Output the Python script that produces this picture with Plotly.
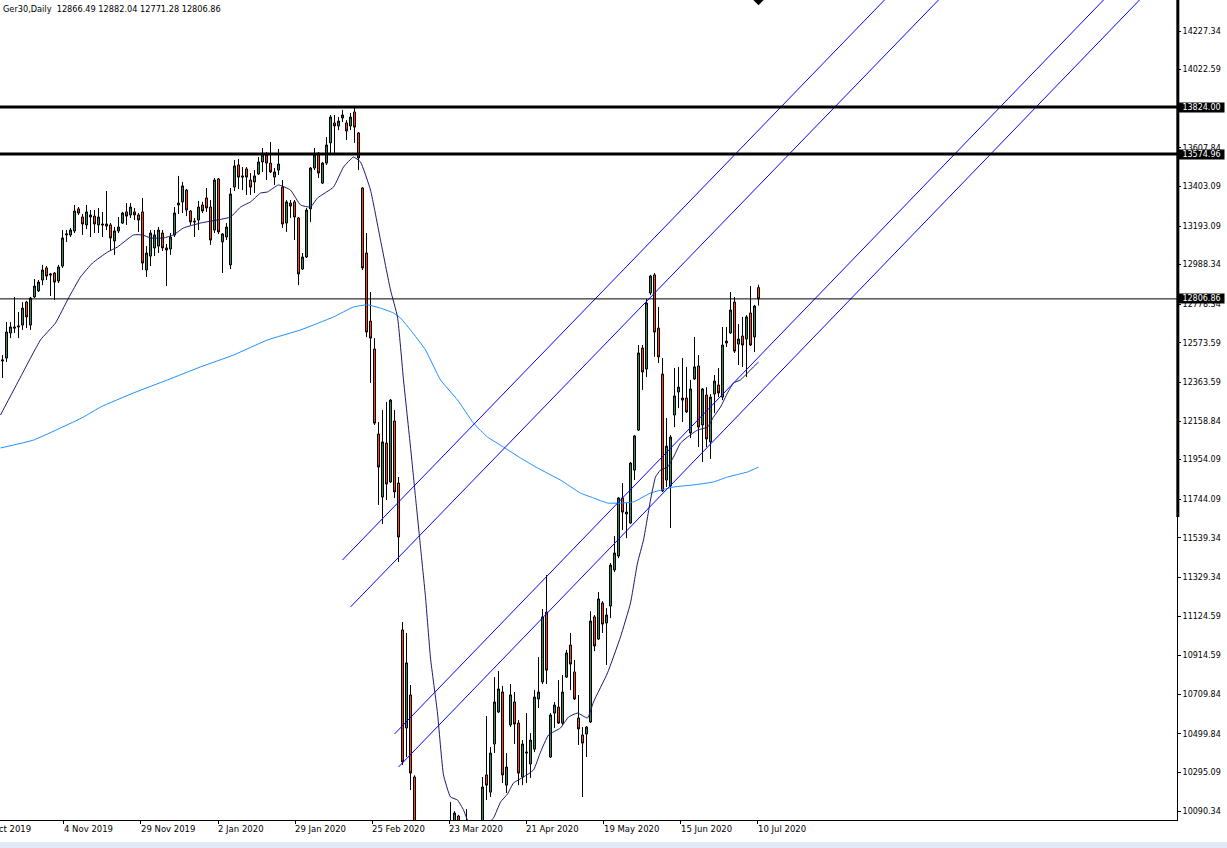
import plotly.graph_objects as go

# ---------------- data ----------------
symbol = "Ger30,Daily"
bar_idx = list(range(190))

opens = [12477, 12493, 12626, 12658, 12658, 12668, 12790, 12668, 12817, 12849,
         12907, 12971, 12939, 12944, 12902, 12981, 13146, 13146, 13167, 13284,
         13241, 13199, 13252, 13246, 13199, 13204, 13204, 13199, 13114, 13167,
         13209, 13268, 13252, 13268, 13252, 13268, 12960, 13034, 13077, 13087,
         13156, 13077, 13071, 13146, 13315, 13321, 13384, 13273, 13220, 13225,
         13305, 13342, 13294, 13172, 13443, 13109, 13135, 12987, 13400, 13517,
         13459, 13496, 13437, 13427, 13469, 13533, 13570, 13527, 13453, 13490,
         13400, 13209, 13315, 13321, 13236, 12965, 13029, 13284, 13501, 13580,
         13421, 13527, 13634, 13740, 13724, 13766, 13740, 13724, 13798, 13687,
         13395, 13050, 12689, 12541, 12090, 11756, 12042, 11836, 12159, 11830,
         11051, 10531, 10706, 10271, 9200, 9000, 8700, 8950, 8450, 8650,
         8900, 8800, 9700, 9850, 10064, 9650, 9850, 9950, 9550, 9600,
         9800, 10282, 10191, 10446, 10616, 10722, 10228, 10547, 10669, 10557,
         10271, 10398, 10340, 10419, 10685, 10775, 11146, 10377, 10610, 10642,
         10557, 10801, 10971, 10828, 10584, 10494, 10499, 10563, 11120, 11003,
         11194, 11088, 11178, 11369, 11443, 11751, 11666, 11618, 11899, 12111,
         12546, 12435, 12838, 12934, 12652, 12408, 11846, 11815, 12191, 12313,
         12281, 12281, 12096, 12382, 12451, 12138, 12297, 12048, 12302, 12350,
         12286, 12573, 12626, 12790, 12567, 12610, 12594, 12732, 12605, 12866.49]

highs = [12509, 12684, 12684, 12817, 12737, 12790, 12796, 12817, 12912, 12907,
         12987, 12981, 12944, 12949, 12987, 13172, 13172, 13183, 13305, 13294,
         13257, 13305, 13278, 13278, 13289, 13268, 13379, 13209, 13188, 13241,
         13268, 13315, 13315, 13289, 13262, 13342, 13087, 13172, 13172, 13188,
         13172, 13098, 13156, 13294, 13459, 13427, 13390, 13278, 13236, 13326,
         13321, 13395, 13331, 13448, 13448, 13156, 13209, 13395, 13543, 13549,
         13506, 13506, 13474, 13490, 13559, 13607, 13586, 13639, 13501, 13602,
         13437, 13331, 13331, 13331, 13241, 13050, 13289, 13506, 13607, 13586,
         13533, 13665, 13782, 13782, 13771, 13809, 13755, 13793, 13819, 13692,
         13400, 13156, 12843, 12599, 12154, 12217, 12260, 12276, 12217, 11862,
         11093, 11035, 10759, 10280, 9950, 9150, 9100, 9000, 8750, 9300,
         8950, 9750, 10138, 10090, 10070, 9900, 10101, 9980, 9700, 9660,
         10271, 10594, 10430, 10801, 10833, 10754, 10398, 10764, 10722, 10573,
         10467, 10610, 10504, 10732, 10907, 11162, 11342, 10610, 10669, 10785,
         10812, 10945, 11035, 10892, 10706, 10536, 10541, 11151, 11130, 11252,
         11204, 11167, 11406, 11549, 11756, 11830, 11724, 11942, 12085, 12562,
         12562, 12806, 12934, 12944, 12764, 12493, 12175, 12085, 12440, 12446,
         12493, 12446, 12377, 12605, 12509, 12334, 12339, 12302, 12403, 12440,
         12658, 12658, 12843, 12817, 12674, 12711, 12721, 12875, 12775, 12882.04]

lows = [12387, 12472, 12599, 12626, 12599, 12642, 12652, 12642, 12811, 12843,
        12880, 12907, 12822, 12801, 12891, 12971, 13109, 13135, 13156, 13252,
        13146, 13177, 13135, 13156, 13156, 13135, 13172, 13066, 13040, 13156,
        13204, 13199, 13236, 13225, 13162, 12960, 12923, 12981, 13034, 13050,
        13061, 12875, 13040, 13135, 13257, 13262, 13246, 13199, 13135, 13172,
        13262, 13268, 13093, 13156, 13151, 12944, 13119, 12965, 13379, 13390,
        13384, 13358, 13358, 13368, 13464, 13480, 13437, 13474, 13411, 13464,
        13183, 13162, 13236, 13119, 12880, 12960, 13024, 13215, 13490, 13448,
        13416, 13517, 13570, 13570, 13702, 13745, 13649, 13702, 13634, 13490,
        12960, 12604, 12361, 12138, 11714, 11613, 11740, 11830, 11751, 11411,
        10335, 10377, 10202, 9100, 9050, 8600, 8550, 8260, 8300, 8600,
        8450, 8750, 9550, 9750, 9600, 9450, 9800, 9450, 9400, 9450,
        9750, 10149, 10165, 10398, 10610, 10239, 10186, 10536, 10446, 10228,
        10228, 10239, 10266, 10403, 10637, 10764, 10764, 10372, 10531, 10552,
        10547, 10796, 10732, 10679, 10441, 10165, 10377, 10557, 10939, 10998,
        11035, 10865, 11114, 11358, 11432, 11581, 11538, 11613, 11846, 12106,
        12324, 12392, 12827, 12499, 12467, 11783, 11809, 11592, 12127, 12228,
        12154, 12201, 12069, 12377, 12021, 11942, 12021, 11958, 12201, 12286,
        12270, 12552, 12621, 12520, 12456, 12446, 12392, 12557, 12525, 12771.28]

closes = [12483, 12631, 12658, 12652, 12663, 12758, 12711, 12811, 12875, 12896,
          12960, 12928, 12934, 12896, 12976, 13130, 13151, 13172, 13273, 13262,
          13204, 13268, 13241, 13204, 13241, 13199, 13193, 13130, 13167, 13188,
          13262, 13246, 13294, 13252, 13225, 12997, 13050, 13156, 13146, 13172,
          13077, 13066, 13135, 13262, 13305, 13406, 13278, 13215, 13215, 13294,
          13273, 13289, 13119, 13437, 13162, 13151, 13188, 13363, 13512, 13453,
          13453, 13453, 13400, 13459, 13533, 13570, 13527, 13480, 13480, 13522,
          13204, 13321, 13299, 13241, 12939, 13029, 13278, 13501, 13570, 13474,
          13527, 13623, 13771, 13724, 13750, 13782, 13697, 13771, 13718, 13554,
          12971, 12631, 12599, 12148, 11915, 12048, 11825, 12270, 11783, 11544,
          10351, 10876, 10292, 9200, 9300, 8750, 8950, 8450, 8620, 8950,
          8700, 9700, 9870, 10080, 9650, 9820, 9950, 9540, 9590, 9520,
          10218, 10228, 10398, 10669, 10738, 10282, 10324, 10706, 10552, 10292,
          10446, 10403, 10467, 10695, 10722, 11120, 10838, 10600, 10653, 10557,
          10722, 10929, 10870, 10685, 10526, 10451, 10536, 11098, 10966, 11215,
          11082, 11130, 11395, 11459, 11751, 11676, 11676, 11936, 12080, 12520,
          12419, 12785, 12928, 12631, 12499, 11788, 12026, 12074, 12292, 12339,
          12270, 12207, 12329, 12446, 12127, 12329, 12064, 12286, 12371, 12308,
          12562, 12583, 12748, 12530, 12594, 12562, 12711, 12562, 12769, 12806.86]

# fast moving average (dark blue), sampled at bar positions
ma_fast_idx = [-0.5, 4.5, 9.5, 13.25, 16.5, 19.5, 22.5, 26.25, 28.75, 32.75, 35, 37, 40.25,
               42.75, 45.25, 49.5, 57, 59.5, 62, 64.5, 66.25, 69, 72, 74.5, 77, 78.75, 82.75,
               85.25, 87.75, 89.5, 92, 94.5, 97, 98.75, 100.25, 102, 103.25, 104.5, 105.75,
               107, 108.75, 110.25, 112, 113.75, 115.25, 116.25, 118, 120, 122.75, 124.5,
               126.25, 127.75, 130.25, 132.75, 134.5, 136.5, 139.5, 141.5, 143.75, 146.25,
               147.75, 151.25, 154.5, 157, 158.75, 160.25, 162, 163.25, 164.5, 166.25, 167.75,
               169.5, 171.25, 173.75, 176.25, 177.75, 179.5, 181.25, 182.75, 184.5, 186.25,
               187.75, 189]
ma_fast_val = [12191, 12392, 12589, 12679, 12811, 12923, 12997, 13055, 13082, 13146, 13146,
               13130, 13130, 13146, 13183, 13209, 13241, 13294, 13321, 13368, 13374, 13411,
               13384, 13305, 13294, 13342, 13400, 13506, 13559, 13533, 13384, 13119, 12854,
               12711, 12377, 12021, 11756, 11491, 11226, 10902, 10610, 10282, 10165, 10149,
               10096, 10043, 10005, 10000, 10054, 10138, 10181, 10239, 10271, 10308, 10403,
               10494, 10531, 10589, 10610, 10584, 10669, 10823, 11014, 11194, 11406, 11528,
               11740, 11862, 11899, 11915, 11968, 12042, 12074, 12111, 12127, 12180, 12233,
               12308, 12361, 12377, 12414, 12446, 12472]

# slow moving average (light blue)
ma_slow_idx = [-0.5, 7.75, 14.5, 20.25, 24.5, 32.75, 41.25, 49.5, 57.75, 66.25, 74.5, 82.75,
               87.75, 91.25, 94.5, 97.75, 99.5, 102, 105.75, 109.5, 113.75, 117.75, 121.25,
               125.25, 129.5, 133.75, 139.5, 144.5, 147.75, 151.25, 154.5, 157.75, 162,
               167.75, 172.75, 177.75, 181.25, 186.25, 189]
ma_slow_val = [12016, 12058, 12122, 12180, 12233, 12308, 12377, 12446, 12509, 12589, 12642,
               12711, 12764, 12775, 12758, 12732, 12705, 12642, 12536, 12377, 12271, 12148,
               12074, 12021, 11963, 11910, 11846, 11777, 11751, 11724, 11724, 11730, 11777,
               11809, 11820, 11836, 11862, 11889, 11915]

# channel trend lines: [start bar, end bar] and [start price, end price]
channel_x = [[85, 222], [87, 235.5], [98, 276.75], [99, 285.75]]
channel_y = [[11422, 14425], [11173, 14425], [10499, 14425], [10324, 14425]]

# horizontal levels
level_high = 13824.00
level_low = 13574.96
bid_price = 12806.86

# axis ticks
y_tick_vals = [14227.34, 14022.59, 13817.84, 13607.84, 13403.09, 13193.09, 12988.34,
               12778.34, 12573.59, 12363.59, 12158.84, 11954.09, 11744.09, 11539.34,
               11329.34, 11124.59, 10914.59, 10709.84, 10499.84, 10295.09, 10090.34]
x_tick_pos = [-4.6, 15.33, 34.6, 53.9, 73.15, 92.4, 111.7, 130.95, 150.25, 169.5, 188.8]
x_tick_text = ["8 Oct 2019", "4 Nov 2019", "29 Nov 2019", "2 Jan 2020", "29 Jan 2020",
               "25 Feb 2020", "23 Mar 2020", "21 Apr 2020", "19 May 2020", "15 Jun 2020",
               "10 Jul 2020"]

X_RANGE = [-0.625, 293.625]
Y_RANGE = [10043, 14392]
FONT = "DejaVu Sans"

# ---------------- figure ----------------
fig = go.Figure()

fig.add_trace(go.Candlestick(
    x=bar_idx, open=opens, high=highs, low=lows, close=closes,
    increasing=dict(line=dict(color="black", width=1), fillcolor="#2e8b57"),
    decreasing=dict(line=dict(color="black", width=1), fillcolor="#ff4500"),
    whiskerwidth=0, hoverinfo="skip", showlegend=False))

fig.add_trace(go.Scatter(x=ma_slow_idx, y=ma_slow_val, mode="lines",
                         line=dict(color="#1e90ff", width=1, shape="spline", smoothing=0.4),
                         hoverinfo="skip", showlegend=False))
fig.add_trace(go.Scatter(x=ma_fast_idx, y=ma_fast_val, mode="lines",
                         line=dict(color="#191970", width=1, shape="spline", smoothing=0.4),
                         hoverinfo="skip", showlegend=False))

for cx, cy in zip(channel_x, channel_y):
    fig.add_trace(go.Scatter(x=cx, y=cy, mode="lines",
                             line=dict(color="#0000ff", width=1),
                             hoverinfo="skip", showlegend=False))

# chart-shift marker at the top
fig.add_trace(go.Scatter(x=[bar_idx[-1]], y=[Y_RANGE[1]], mode="markers",
                         marker=dict(symbol="diamond", size=8, color="black"),
                         cliponaxis=True, hoverinfo="skip", showlegend=False))

shapes = [
    dict(type="line", xref="paper", yref="y", x0=0, x1=1, y0=level_high, y1=level_high,
         line=dict(color="black", width=3)),
    dict(type="line", xref="paper", yref="y", x0=0, x1=1, y0=level_low, y1=level_low,
         line=dict(color="black", width=3)),
    dict(type="line", xref="paper", yref="y", x0=0, x1=1, y0=bid_price, y1=bid_price,
         line=dict(color="black", width=1)),
    dict(type="line", xref="paper", yref="paper", x0=1.0007, x1=1.0007, y0=0.3695, y1=1,
         line=dict(color="black", width=3)),
    dict(type="rect", xref="paper", yref="paper", x0=0, x1=1.05, y0=-0.03415, y1=-0.0268,
         line=dict(width=0), fillcolor="#e1e9f4"),
]

span = X_RANGE[1] - X_RANGE[0]
annotations = []
for pos, txt in zip(x_tick_pos, x_tick_text):
    annotations.append(dict(
        x=(pos - X_RANGE[0]) / span, xref="paper", y=0, yref="paper",
        xanchor="left", yanchor="top", xshift=-2, yshift=-2, showarrow=False,
        text=txt, font=dict(family=FONT, size=8.5, color="black")))

title_txt = "%s\u00a0\u00a0%.2f %.2f %.2f %.2f" % (symbol, opens[-1], highs[-1], lows[-1], closes[-1])
annotations.append(dict(x=0, xref="paper", y=1, yref="paper", xanchor="left", yanchor="top",
                        xshift=1, yshift=-2, showarrow=False, text=title_txt,
                        font=dict(family=FONT, size=8.2, color="black")))

for lv in [level_high, level_low, bid_price]:
    annotations.append(dict(x=1, xref="paper", y=lv, yref="y", xanchor="left", yanchor="middle",
                            xshift=1, showarrow=False, text="%.2f" % lv,
                            width=45, height=9, align="center", bgcolor="black", borderpad=0,
                            font=dict(family=FONT, size=8, color="white")))

fig.update_layout(
    width=1227, height=848,
    margin=dict(l=0, r=50, t=0, b=28),
    paper_bgcolor="white", plot_bgcolor="white",
    showlegend=False, boxgap=0.5, boxgroupgap=0,
    shapes=shapes, annotations=annotations,
    xaxis=dict(range=X_RANGE, showgrid=False, zeroline=False,
               showline=True, linecolor="black", linewidth=1,
               tickvals=[p for p in x_tick_pos if p > X_RANGE[0]],
               ticktext=["" for p in x_tick_pos if p > X_RANGE[0]],
               ticks="outside", ticklen=3, tickcolor="black", tickwidth=1,
               rangeslider=dict(visible=False), fixedrange=True),
    yaxis=dict(side="right", range=Y_RANGE, showgrid=False, zeroline=False,
               showline=True, linecolor="black", linewidth=1,
               tickvals=y_tick_vals, ticktext=["%.2f" % v for v in y_tick_vals],
               ticks="outside", ticklen=3, tickcolor="black", tickwidth=1,
               tickfont=dict(family=FONT, size=8, color="black"), fixedrange=True),
)

fig.write_html("out.html", config={"displayModeBar": False},
               post_script="document.body.style.margin='0';document.body.style.overflow='hidden';")
